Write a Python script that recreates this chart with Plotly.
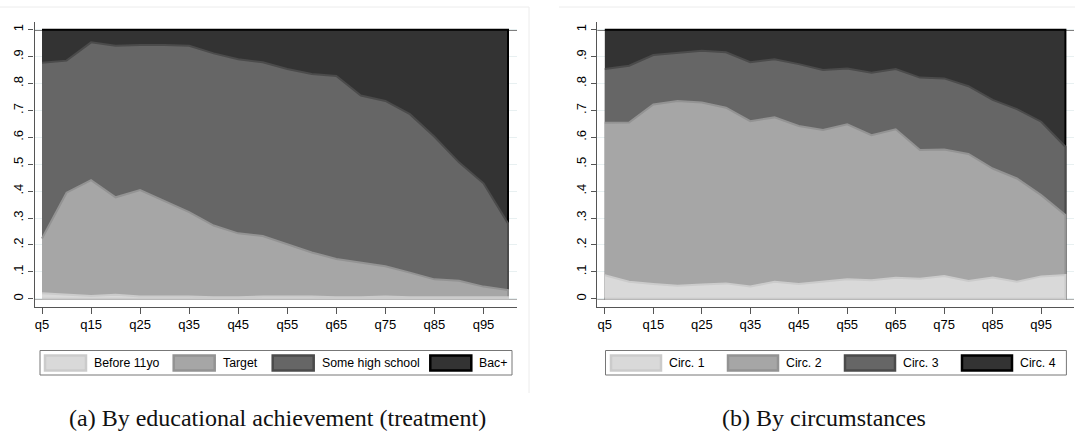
import plotly.graph_objects as go

# ---------------- data ----------------
quantiles = [5, 10, 15, 20, 25, 30, 35, 40, 45, 50, 55, 60, 65, 70, 75, 80, 85, 90, 95, 100]
tick_vals = [5, 15, 25, 35, 45, 55, 65, 75, 85, 95]
tick_text = ["q5", "q15", "q25", "q35", "q45", "q55", "q65", "q75", "q85", "q95"]
y_tick_vals = [0, 0.1, 0.2, 0.3, 0.4, 0.5, 0.6, 0.7, 0.8, 0.9, 1]
y_tick_text = ["0", ".1", ".2", ".3", ".4", ".5", ".6", ".7", ".8", ".9", "1"]

# Panel (a): cumulative shares by educational achievement
edu_names = ["Before 11yo", "Target", "Some high school", "Bac+"]
edu_before11 = [0.020, 0.015, 0.010, 0.015, 0.008, 0.008, 0.008, 0.005, 0.005, 0.008,
                0.008, 0.008, 0.005, 0.005, 0.008, 0.005, 0.005, 0.005, 0.005, 0.005]
edu_target_cum = [0.224, 0.394, 0.441, 0.377, 0.404, 0.362, 0.322, 0.272, 0.243, 0.233,
                  0.203, 0.172, 0.148, 0.135, 0.121, 0.097, 0.072, 0.067, 0.045, 0.032]
edu_somehs_cum = [0.877, 0.885, 0.953, 0.940, 0.943, 0.943, 0.940, 0.912, 0.890, 0.879,
                  0.854, 0.835, 0.828, 0.755, 0.735, 0.686, 0.602, 0.507, 0.429, 0.280]
edu_bac_cum = [1.0] * 20

# Panel (b): cumulative shares by circumstances
circ_names = ["Circ. 1", "Circ. 2", "Circ. 3", "Circ. 4"]
circ1_cum = [0.087, 0.063, 0.055, 0.048, 0.053, 0.057, 0.045, 0.063, 0.055, 0.063,
             0.072, 0.069, 0.078, 0.074, 0.084, 0.066, 0.079, 0.063, 0.083, 0.088]
circ2_cum = [0.654, 0.655, 0.722, 0.735, 0.729, 0.710, 0.660, 0.674, 0.642, 0.627,
             0.648, 0.608, 0.630, 0.553, 0.555, 0.538, 0.484, 0.447, 0.385, 0.311]
circ3_cum = [0.854, 0.866, 0.906, 0.914, 0.922, 0.916, 0.879, 0.890, 0.872, 0.850,
             0.856, 0.840, 0.854, 0.822, 0.819, 0.790, 0.739, 0.705, 0.658, 0.565]
circ4_cum = [1.0] * 20

# ---------------- styles ----------------
fill_colors = ["#d9d9d9", "#a6a6a6", "#666666", "#333333"]
line_colors = ["#cbcbcb", "#939393", "#4b4b4b", "#000000"]
W, H = 1075, 434
FONT = "Liberation Sans, Arial, sans-serif"

fig = go.Figure()


def add_panel(cums, names, xa, ya):
    # draw from top series down, each as area from 0 to cumulative share
    for i in reversed(range(len(cums))):
        xs = quantiles + quantiles[::-1]
        ys = cums[i] + [0.0] * len(quantiles)
        fig.add_trace(go.Scatter(
            x=xs, y=ys, fill="toself", mode="lines",
            fillcolor=fill_colors[i],
            line=dict(color=line_colors[i], width=2),
            name=names[i], showlegend=False, hoverinfo="skip",
            xaxis=xa, yaxis=ya))


add_panel([edu_before11, edu_target_cum, edu_somehs_cum, edu_bac_cum], edu_names, "x", "y")
add_panel([circ1_cum, circ2_cum, circ3_cum, circ4_cum], circ_names, "x2", "y2")

ydom = [1 - 306.7 / H, 1 - 21.7 / H]
axis_common = dict(showline=True, linecolor="#555555", linewidth=1.3,
                   ticks="outside", tickcolor="#555555", ticklen=6, tickwidth=1.2,
                   tickfont=dict(family=FONT, size=13, color="#000"), zeroline=False)

xcommon = dict(axis_common, tickvals=tick_vals, ticktext=tick_text, showgrid=False)
ycommon = dict(axis_common, tickvals=y_tick_vals, ticktext=y_tick_text, tickangle=-90,
               range=[-0.0297, 1.0297], showgrid=True, gridcolor="#e8f0f1", gridwidth=1,
               ticklen=5)

fig.update_layout(
    width=W, height=H, margin=dict(l=0, r=0, t=0, b=0),
    paper_bgcolor="white", plot_bgcolor="white", showlegend=False,
    xaxis=dict(xcommon, domain=[34.5 / W, 517 / W], range=[3.47, 101.83], anchor="y"),
    yaxis=dict(ycommon, domain=ydom, anchor="x"),
    xaxis2=dict(xcommon, domain=[597.3 / W, 1074 / W], range=[3.45, 101.77], anchor="y2"),
    yaxis2=dict(ycommon, domain=ydom, anchor="x2"),
)

shapes = []
# reference lines at 0 and 1 (darker gridlines)
for xr, yr in (("x domain", "y"), ("x2 domain", "y2")):
    shapes.append(dict(type="line", xref=xr, yref=yr, x0=0, x1=1, y0=1, y1=1,
                       line=dict(color="#000000", width=1.5), layer="below"))
    shapes.append(dict(type="line", xref=xr, yref=yr, x0=0, x1=1, y0=0, y1=0,
                       line=dict(color="#666666", width=1.5), layer="below"))

# faint subfigure frames
def px_line(x0, y0, x1, y1, color="#ececec"):
    return dict(type="line", xref="paper", yref="paper",
                x0=x0 / W, x1=x1 / W, y0=1 - y0 / H, y1=1 - y1 / H,
                line=dict(color=color, width=1))

shapes.append(px_line(0, 7, 529, 7))
shapes.append(px_line(529, 7, 529, 393))
shapes.append(px_line(559, 7, 1075, 7))

annotations = []

# legends (Stata style): box, wide keys, labels
def add_legend(box, key_x, key_w, names):
    bx0, bx1, by0, by1 = box
    shapes.append(dict(type="rect", xref="paper", yref="paper",
                       x0=bx0 / W, x1=bx1 / W, y0=1 - by1 / H, y1=1 - by0 / H,
                       line=dict(color="#777777", width=1), fillcolor="white"))
    ky0, ky1 = 355.5, 370.5
    for i, name in enumerate(names):
        kx = key_x[i]
        shapes.append(dict(type="rect", xref="paper", yref="paper",
                           x0=(kx + 1) / W, x1=(kx + key_w - 1) / W,
                           y0=1 - ky1 / H, y1=1 - ky0 / H,
                           line=dict(color=line_colors[i], width=2.5),
                           fillcolor=fill_colors[i]))
        annotations.append(dict(xref="paper", yref="paper", x=(kx + key_w + 5) / W,
                                y=1 - 363 / H, xanchor="left", yanchor="middle",
                                text=name, showarrow=False,
                                font=dict(family=FONT, size=12.3, color="#000")))


add_legend((40, 512, 350.5, 375), [44, 172.7, 271.7, 429.3], 43, edu_names)
add_legend((605.5, 1066.4, 350.5, 375), [610, 727, 844, 961], 52, circ_names)

CAP_FONT = dict(family="Liberation Serif, Times New Roman, serif", size=24, color="#111")
annotations.append(dict(xref="paper", yref="paper", x=277 / W, y=1 - 418 / H,
                        xanchor="center", yanchor="middle", showarrow=False,
                        text="(a) By educational achievement (treatment)", font=CAP_FONT))
annotations.append(dict(xref="paper", yref="paper", x=824 / W, y=1 - 418 / H,
                        xanchor="center", yanchor="middle", showarrow=False,
                        text="(b) By circumstances", font=CAP_FONT))

fig.update_layout(shapes=shapes, annotations=annotations)
fig.write_html("out.html")
